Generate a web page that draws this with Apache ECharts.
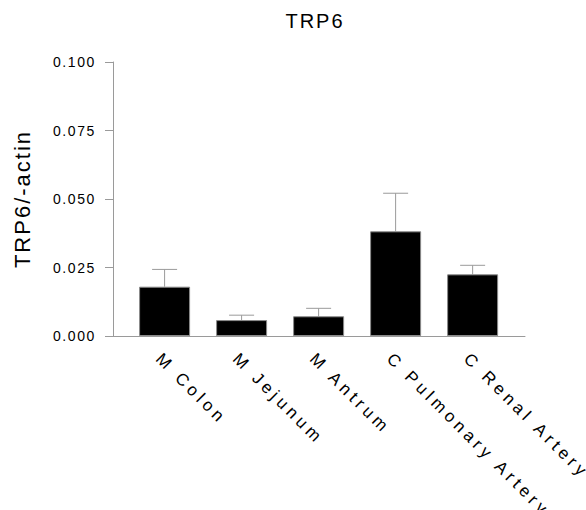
<!DOCTYPE html>
<html>
<head>
<meta charset="utf-8">
<script src="https://cdn.jsdelivr.net/npm/echarts@6/dist/echarts.min.js"></script>
<style>
html,body{margin:0;padding:0;background:#fff;}
#chart{width:586px;height:510px;}
</style>
</head>
<body>
<div id="chart"></div>
<script>
const categories = ['M Colon', 'M Jejunum', 'M Antrum', 'C Pulmonary Artery', 'C Renal Artery'];
const means = [0.0180, 0.0058, 0.0072, 0.0382, 0.0225];
const errorTops = [0.0243, 0.0076, 0.0101, 0.0521, 0.0258];
const yTicks = [0, 0.025, 0.05, 0.075, 0.1];
const titleText = 'TRP6';
const yName = 'TRP6/-actin';

const FONT = '"Liberation Sans", Arial, Helvetica, sans-serif';
const axisGrey = '#9a9a9a';

const chart = echarts.init(document.getElementById('chart'), null, {renderer: 'svg'});

const barData = means.map((v, i) => [i, v]);
const errData = means.map((v, i) => [i, v, errorTops[i]]);

chart.setOption({
  animation: false,
  backgroundColor: '#fff',
  title: {
    text: titleText,
    left: 310,
    top: 6,
    textAlign: 'center',
    textStyle: {fontFamily: FONT, fontSize: 20, fontWeight: 'normal', color: '#000'}
  },
  grid: {left: 113, top: 62, width: 412, height: 274, containLabel: false, outerBoundsMode: 'none'},
  xAxis: {
    type: 'value',
    min: -0.67,
    max: 4.68,
    splitLine: {show: false},
    axisTick: {show: false},
    axisLine: {show: true, onZero: false, lineStyle: {color: axisGrey, width: 1}},
    axisLabel: {
      customValues: categories.map((c, i) => i),
      formatter: v => categories[Math.round(v)],
      rotate: -45,
      margin: 14,
      verticalAlign: 'top',
      fontFamily: FONT,
      fontSize: 17,
      color: '#000',
      hideOverlap: false
    }
  },
  yAxis: {
    type: 'value',
    min: 0,
    max: 0.1,
    interval: 0.025,
    name: yName,
    nameLocation: 'middle',
    nameRotate: 90,
    nameGap: 80,
    nameTextStyle: {fontFamily: FONT, fontSize: 22, color: '#000'},
    splitLine: {show: false},
    axisLine: {show: true, onZero: false, lineStyle: {color: axisGrey, width: 1}},
    axisTick: {show: true, length: 8, lineStyle: {color: axisGrey, width: 1}},
    axisLabel: {
      margin: 17,
      fontFamily: FONT,
      fontSize: 14,
      color: '#000',
      formatter: v => v.toFixed(3)
    }
  },
  series: [
    {
      type: 'bar',
      data: barData,
      barWidth: 51,
      itemStyle: {color: '#000', borderColor: '#8a8a8a', borderWidth: 1},
      z: 3
    },
    {
      type: 'custom',
      data: errData,
      z: 2,
      renderItem: function (params, api) {
        const x = api.value(0);
        const lo = api.coord([x, api.value(1)]);
        const hi = api.coord([x, api.value(2)]);
        const half = 12.5;
        const style = {stroke: axisGrey, lineWidth: 1};
        return {
          type: 'group',
          children: [
            {type: 'line', shape: {x1: lo[0], y1: lo[1], x2: hi[0], y2: hi[1]}, style: style},
            {type: 'line', shape: {x1: hi[0] - half, y1: hi[1], x2: hi[0] + half, y2: hi[1]}, style: style}
          ]
        };
      }
    }
  ]
});

function applySpacing() {
  const map = {'20px': '2px', '22px': '2px', '14px': '1.6px', '17px': '4.2px'};
  document.querySelectorAll('#chart svg text').forEach(el => {
    const fs = getComputedStyle(el).fontSize;
    if (map[fs]) el.setAttribute('letter-spacing', map[fs]);
  });
}
chart.on('finished', applySpacing);
applySpacing();
setTimeout(applySpacing, 50);
requestAnimationFrame(applySpacing);
</script>
</body>
</html>
